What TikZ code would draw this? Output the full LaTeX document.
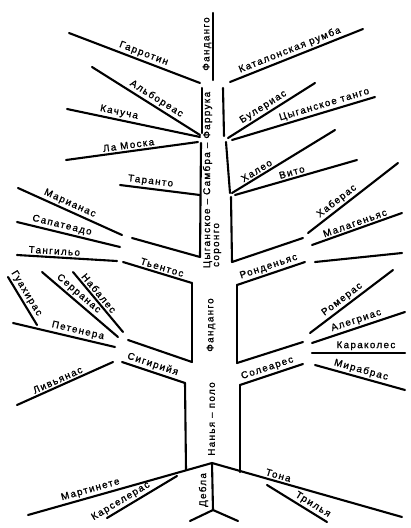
\documentclass[tikz,border=0pt]{standalone}
\usepackage{fontspec}
\newfontfamily\labfont[LetterSpace=14,FakeBold=1.2]{Liberation Sans}
\tikzset{
  br/.style={line width=2.1pt, line cap=round},
  lab/.style={sloped, above, font=\labfont\fontsize{9.8}{11}\selectfont, inner sep=1.8pt},
  vlab/.style={rotate=90, font=\labfont\fontsize{9.8}{11}\selectfont, inner sep=0pt},
}
\begin{document}
\begin{tikzpicture}[x=1pt,y=-1pt]
\useasboundingbox[fill=white] (0,0) rectangle (411,528);
% trunk coordinates
\coordinate (t0) at (213,13); \coordinate (t1) at (213,80);
\coordinate (bl0) at (202,88); \coordinate (bl1) at (202,133);
\coordinate (br0) at (223,88); \coordinate (br1) at (224,136);
\coordinate (cl0) at (201,143); \coordinate (cl1) at (200,257);
\coordinate (cr0) at (226,142); \coordinate (cr1) at (230,193);
\coordinate (dr0) at (231,197); \coordinate (dr1) at (232,262);
\coordinate (el1) at (192,283); \coordinate (el2) at (192,362);
\coordinate (fl0) at (185,383); \coordinate (fl1) at (186,470);
\coordinate (er0) at (237,285); \coordinate (er1) at (237,363);
\coordinate (fr0) at (240,385); \coordinate (fr1) at (240,472);
\coordinate (apex) at (212,463);
\coordinate (dk) at (213,510);
% trunk lines
\draw[br] (t0) -- (t1);
\draw[br] (bl0) -- (bl1);
\draw[br] (br0) -- (br1);
\draw[br] (cl0) -- (cl1);
\draw[br] (cr0) -- (cr1);
\draw[br] (dr0) -- (dr1);
\draw[br] (el1) -- (el2);
\draw[br] (fl0) -- (fl1);
\draw[br] (er0) -- (er1);
\draw[br] (fr0) -- (fr1);
% branch end coordinates
\coordinate (g0) at (69,33);   \coordinate (g1) at (200,83);
\coordinate (a0) at (92,67);   \coordinate (a1) at (200,135);
\coordinate (k0) at (67,109);  \coordinate (k1) at (200,137);
\coordinate (m0) at (66,160);  \coordinate (m1) at (198,142);
\coordinate (ta0) at (120,185); \coordinate (ta1) at (200,195);
\coordinate (kr0) at (230,82); \coordinate (kr1) at (363,29);
\coordinate (bu0) at (228,138); \coordinate (bu1) at (315,83);
\coordinate (ct0) at (232,140); \coordinate (ct1) at (375,97);
\coordinate (xa0) at (232,193); \coordinate (xa1) at (335,130);
\coordinate (vi0) at (235,195); \coordinate (vi1) at (357,160);
\coordinate (ma0) at (18,188); \coordinate (ma1) at (122,235);
\coordinate (sa0) at (17,222); \coordinate (sa1) at (120,247);
\coordinate (tg0) at (17,255); \coordinate (tg1) at (117,261);
\coordinate (te0) at (132,238);
\coordinate (te2) at (123,262);
\coordinate (gu0) at (8,277);  \coordinate (gu1) at (37,325);
\coordinate (se0) at (42,272); \coordinate (se1) at (118,337);
\coordinate (na0) at (73,272); \coordinate (na1) at (123,332);
\coordinate (pe0) at (13,323); \coordinate (pe1) at (115,347);
\coordinate (si0) at (128,340);
\coordinate (si2) at (122,362);
\coordinate (li0) at (17,405); \coordinate (li1) at (113,362);
\coordinate (ro1) at (303,238);
\coordinate (ro3) at (305,262);
\coordinate (xb0) at (308,233); \coordinate (xb1) at (398,163);
\coordinate (mg0) at (312,245); \coordinate (mg1) at (402,213);
\coordinate (un0) at (315,262); \coordinate (un1) at (402,253);
\coordinate (rm0) at (310,333); \coordinate (rm1) at (393,270);
\coordinate (al0) at (312,343); \coordinate (al1) at (405,312);
\coordinate (kk0) at (312,353); \coordinate (kk1) at (405,353);
\coordinate (mi0) at (315,365); \coordinate (mi1) at (405,390);
\coordinate (so1) at (303,342);
\coordinate (so3) at (303,364);
\coordinate (mt0) at (28,515);
\coordinate (to1) at (402,517);
\coordinate (ka0) at (107,518); \coordinate (ka1) at (177,476);
\coordinate (tr0) at (267,485); \coordinate (tr1) at (327,522);
\coordinate (dl) at (190,521); \coordinate (dr) at (238,521);
% upper left
\draw[br] (g0) -- node[lab,pos=0.55] {Гарротин} (g1);
\draw[br] (a0) -- node[lab,pos=0.56] {Альбореас} (a1);
\draw[br] (k0) -- node[lab,pos=0.38] {Качуча} (k1);
\draw[br] (m0) -- node[lab,pos=0.48] {Ла Моска} (m1);
\draw[br] (ta0) -- node[lab,pos=0.37] {Таранто} (ta1);
% upper right
\draw[br] (kr0) -- node[lab,pos=0.47] {Каталонская румба} (kr1);
\draw[br] (bu0) -- node[lab,pos=0.45] {Булериас} (bu1);
\draw[br] (ct0) -- node[lab,pos=0.66] {Цыганское танго} (ct1);
\draw[br] (xa0) -- node[lab,pos=0.27] {Халео} (xa1);
\draw[br] (vi0) -- node[lab,pos=0.48] {Вито} (vi1);
% middle left
\draw[br] (ma0) -- node[lab,pos=0.47] {Марианас} (ma1);
\draw[br] (sa0) -- node[lab,pos=0.42] {Сапатеадо} (sa1);
\draw[br] (tg0) -- node[lab,pos=0.37] {Тангильо} (tg1);
\draw[br] (te0) -- (cl1);
\draw[br] (te2) -- node[lab,pos=0.54] {Тьентос} (el1);
\draw[br] (gu0) -- node[lab,pos=0.42] {Гуахирас} (gu1);
\draw[br] (se0) -- node[lab,pos=0.42] {Серранас} (se1);
\draw[br] (na0) -- node[lab,pos=0.42] {Набалес} (na1);
\draw[br] (pe0) -- node[lab,pos=0.62] {Петенера} (pe1);
\draw[br] (si0) -- (el2);
\draw[br] (si2) -- node[lab,pos=0.45] {Сигирийя} (fl0);
\draw[br] (li0) -- node[lab,pos=0.45] {Ливьянас} (li1);
% middle right
\draw[br] (dr1) -- (ro1);
\draw[br] (er0) -- node[lab,pos=0.5] {Ронденьяс} (ro3);
\draw[br] (xb0) -- node[lab,pos=0.37] {Хаберас} (xb1);
\draw[br] (mg0) -- node[lab,pos=0.5] {Малагеньяс} (mg1);
\draw[br] (un0) -- (un1);
\draw[br] (rm0) -- node[lab,pos=0.44] {Ромерас} (rm1);
\draw[br] (al0) -- node[lab,pos=0.5] {Алегриас} (al1);
\draw[br] (kk0) -- node[lab,pos=0.58] {Караколес} (kk1);
\draw[br] (mi0) -- node[lab,pos=0.49] {Мирабрас} (mi1);
\draw[br] (er1) -- (so1);
\draw[br] (fr0) -- node[lab,pos=0.47] {Солеарес} (so3);
% bottom
\draw[br] (mt0) -- node[lab,pos=0.35] {Мартинете} (apex);
\draw[br] (apex) -- node[lab,pos=0.34] {Тона} (to1);
\draw[br] (ka0) -- node[lab,pos=0.25] {Карселерас} (ka1);
\draw[br] (tr0) -- node[lab,pos=0.7] {Трилья} (tr1);
\draw[br] (apex) -- (dk);
\draw[br] (dk) -- (dl);
\draw[br] (dk) -- (dr);
% trunk texts
\node[vlab] (fand1) at (207,44) {Фанданго};
\node[vlab] (tsyg) at (207.5,180) {Цыганское – Самбра – Фаррука};
\node[vlab] (sor) at (217.5,245) {соронго};
\node[vlab] (fand2) at (211,325) {Фанданго};
\node[vlab] (nan) at (211.5,419) {Нанья – поло};
\node[vlab] (debla) at (203.5,490) {Дебла};
\end{tikzpicture}
\end{document}
